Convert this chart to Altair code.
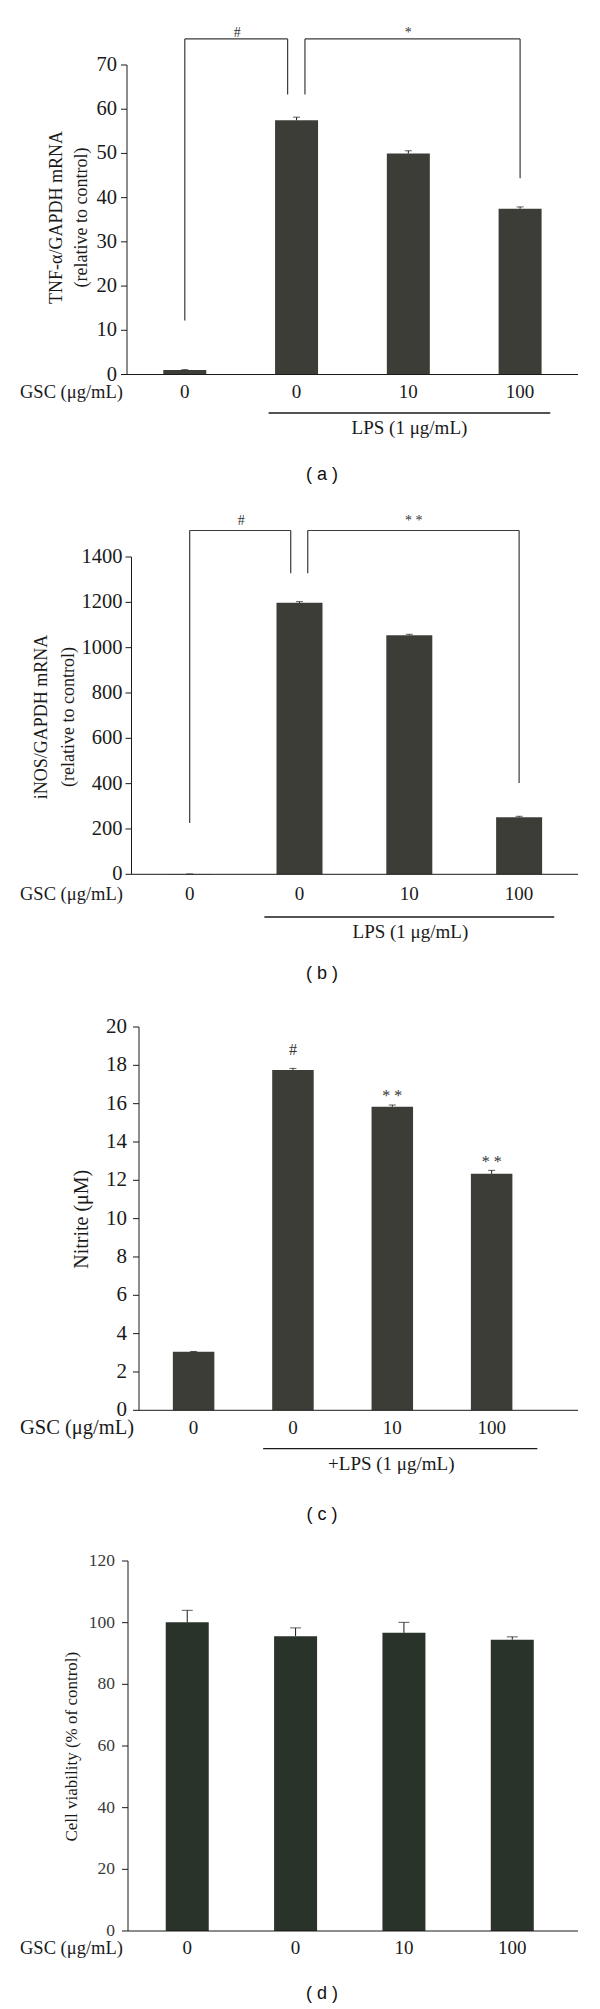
import altair as alt
import pandas as pd

SERIF = "Liberation Serif"
SANS = "Liberation Sans"
INK = "#1a1a1a"

GSC_LABELS = ["0", "0", "10", "100"]
GROUP_POS = [0, 1, 2, 3]

TNF_VALUES = [1.0, 57.5, 50.0, 37.5]
TNF_ERRORS = [0.1, 0.7, 0.6, 0.4]
TNF_TICKS = [0, 10, 20, 30, 40, 50, 60, 70]
TNF_TICK_LABELS = ["0", "10", "20", "30", "40", "50", "60", "70"]

INOS_VALUES = [1.0, 1198.0, 1055.0, 252.0]
INOS_ERRORS = [0.5, 5.0, 4.0, 4.0]
INOS_TICKS = [0, 200, 400, 600, 800, 1000, 1200, 1400]
INOS_TICK_LABELS = ["0", "200", "400", "600", "800", "1000", "1200", "1400"]

NITRITE_VALUES = [3.05, 17.76, 15.84, 12.34]
NITRITE_ERRORS = [0.02, 0.08, 0.09, 0.18]
NITRITE_TICKS = [0, 2, 4, 6, 8, 10, 12, 14, 16, 18, 20]
NITRITE_TICK_LABELS = ["0", "2", "4", "6", "8", "10", "12", "14", "16", "18", "20"]

VIABILITY_VALUES = [100.1, 95.6, 96.7, 94.5]
VIABILITY_ERRORS = [3.9, 2.7, 3.4, 0.9]
VIABILITY_TICKS = [0, 20, 40, 60, 80, 100, 120]
VIABILITY_TICK_LABELS = ["0", "20", "40", "60", "80", "100", "120"]

# significance brackets (x in group units, y in data units)
TNF_BRACKET_X = [[0.0, 0.92], [1.075, 3.0]]
TNF_BRACKET_LEGS = [[12.2, 63.3], [63.3, 44.4]]
TNF_BRACKET_TOP = 75.9
TNF_MARKS = ["#", "*"]
TNF_MARK_X = [0.47, 2.0]
TNF_MARK_Y = [76.4, 76.4]

INOS_BRACKET_X = [[0.0, 0.92], [1.075, 3.0]]
INOS_BRACKET_LEGS = [[226.0, 1328.0], [1328.0, 403.0]]
INOS_BRACKET_TOP = 1517.0
INOS_MARKS = ["#", "* *"]
INOS_MARK_X = [0.47, 2.04]
INOS_MARK_Y = [1540.0, 1540.0]

NITRITE_MARKS = ["#", "* *", "* *"]
NITRITE_MARK_X = [1, 2, 3]
NITRITE_MARK_Y = [18.52, 16.15, 12.68]

LPS_LABELS = ["LPS (1 μg/mL)", "LPS (1 μg/mL)", "+LPS (1 μg/mL)"]
LPS_SPAN = [[0.75, 3.27], [0.68, 3.32], [0.70, 3.46]]
LPS_TEXT_X = [2.01, 2.01, 1.99]

TITLES = {
    "a": ["TNF-α/GAPDH mRNA", "(relative to control)"],
    "b": ["iNOS/GAPDH mRNA", "(relative to control)"],
    "c": ["Nitrite (μM)"],
    "d": ["Cell viability (% of control)"],
}

W = 451


def make_panel(values, errors, ticks, tick_labels, y_title, L, bar_color,
               brackets=None, marks=None, lps=None, letter="a"):
    H = L["height"]
    ax = L["axis_x"]
    xs = alt.Scale(domain=L["xdomain"], nice=False, zero=False)
    ys = alt.Scale(domain=[0, ticks[-1]], nice=False, zero=True)

    def X(f):
        return alt.X(f, type="quantitative", scale=xs, axis=None)

    def Y(f):
        return alt.Y(f, type="quantitative", scale=ys, axis=None)

    df = pd.DataFrame({
        "pos": GROUP_POS,
        "value": values,
        "upper": [v + e for v, e in zip(values, errors)],
        "label": GSC_LABELS,
    })
    tdf = pd.DataFrame({"t": ticks, "tl": tick_labels})
    one = pd.DataFrame({"zero": [0], "top": [ticks[-1]]})

    layers = []
    # invisible extent of the panel (controls vertical stacking)
    layers.append(
        alt.Chart(one).mark_rule(opacity=0).encode(
            x=alt.value(0), y=alt.value(L["extent"][0]), y2=alt.value(L["extent"][1]))
    )
    # bars
    layers.append(
        alt.Chart(df).mark_bar(orient="vertical", size=L["bar_w"], color=bar_color).encode(
            x=X("pos"), y=Y("value"))
    )
    # error bars (upper only)
    layers.append(
        alt.Chart(df).mark_rule(color=INK, strokeWidth=1).encode(
            x=X("pos"), y=Y("value"), y2="upper")
    )
    layers.append(
        alt.Chart(df).mark_tick(orient="horizontal", size=L["cap"], thickness=1, color=INK).encode(
            x=X("pos"), y=Y("upper"))
    )
    # x baseline
    layers.append(
        alt.Chart(one).mark_rule(color=INK, strokeWidth=1).encode(
            x=alt.value(ax), x2=alt.value(W), y=Y("zero"))
    )
    # y axis: domain, ticks, labels
    layers.append(
        alt.Chart(one).mark_rule(color=INK, strokeWidth=1).encode(
            x=alt.value(ax), y=Y("zero"), y2="top")
    )
    layers.append(
        alt.Chart(tdf).mark_rule(color=INK, strokeWidth=1).encode(
            x=alt.value(ax - 6), x2=alt.value(ax), y=Y("t"))
    )
    layers.append(
        alt.Chart(tdf).mark_text(font=SERIF, fontSize=L["tick_fs"], align="right", baseline="middle",
                                 color=L["tick_color"]).encode(
            x=alt.value(ax - L["tick_gap"]), y=Y("t"), text="tl:N")
    )
    # group labels
    layers.append(
        alt.Chart(df).mark_text(font=SERIF, fontSize=19, baseline="middle", color=INK).encode(
            x=X("pos"), y=alt.value(L["label_y"]), text="label:N")
    )
    layers.append(
        alt.Chart(one).mark_text(font=SERIF, fontSize=L["gsc_fs"], baseline="middle", align="left", color=INK).encode(
            x=alt.value(-107), y=alt.value(L["label_y"]), text=alt.value("GSC (μg/mL)"))
    )
    # y title, one mark per line
    for line, tx in zip(y_title, L["title_x"]):
        layers.append(
            alt.Chart(one).mark_text(font=SERIF, fontSize=L["title_fs"], angle=270,
                                     baseline="middle", align="center", color=INK).encode(
                x=alt.value(tx), y=alt.value(L["title_y"]), text=alt.value(line))
        )
    # panel letter
    layers.append(
        alt.Chart(one).mark_text(font=SANS, fontSize=18, baseline="middle", align="center", color="#111").encode(
            x=alt.value(195), y=alt.value(L["letter_y"]), text=alt.value(f"( {letter} )"))
    )
    if lps is not None:
        span, label, lx = lps
        ldf = pd.DataFrame({"x": [span[0]], "x2": [span[1]], "lx": [lx], "t": [label]})
        layers.append(
            alt.Chart(ldf).mark_rule(color=INK, strokeWidth=1.3).encode(
                x=X("x"), x2="x2", y=alt.value(L["lps_line_y"]))
        )
        layers.append(
            alt.Chart(ldf).mark_text(font=SERIF, fontSize=19, baseline="middle", color=INK).encode(
                x=X("lx"), y=alt.value(L["lps_text_y"]), text="t:N")
        )
    if brackets is not None:
        bx, legs, top = brackets
        segs = []
        for (xa, xb), (la, lb) in zip(bx, legs):
            segs.append({"x": xa, "x2": xa, "y": la, "y2": top})
            segs.append({"x": xa, "x2": xb, "y": top, "y2": top})
            segs.append({"x": xb, "x2": xb, "y": lb, "y2": top})
        layers.append(
            alt.Chart(pd.DataFrame(segs)).mark_rule(color="#3a3a3a", strokeWidth=1.2).encode(
                x=X("x"), x2="x2", y=Y("y"), y2="y2")
        )
    if marks is not None:
        mt, mx, my, mfs = marks
        mdf = pd.DataFrame({"x": mx, "y": my, "t": mt})
        layers.append(
            alt.Chart(mdf).mark_text(font=SERIF, fontSize=mfs, baseline="alphabetic", color="#333").encode(
                x=X("x"), y=Y("y"), text="t:N")
        )
    return alt.layer(*layers).properties(width=W, height=H)


LA = dict(height=309.5, xdomain=[-0.4724, 3.4733], bar_w=43, cap=7, axis_x=0,
          tick_fs=20.5, tick_gap=10, tick_color=INK, title_fs=18, title_x=[-70, -45], title_y=152.5,
          gsc_fs=18.5, label_y=327.0, lps_line_y=348, lps_text_y=363, letter_y=410, extent=[-57, 435])
LB = dict(height=317.3, xdomain=[-0.5254, 3.4907], bar_w=46, cap=7, axis_x=4.5,
          tick_fs=20.5, tick_gap=9, tick_color=INK, title_fs=18, title_x=[-85, -58.4], title_y=160,
          gsc_fs=18.5, label_y=336.6, lps_line_y=360, lps_text_y=375, letter_y=416.6, extent=[-56.7, 443.3])
LC = dict(height=383.3, xdomain=[-0.6201, 3.8189], bar_w=41.5, cap=7, axis_x=12,
          tick_fs=21, tick_gap=12, tick_color=INK, title_fs=20, title_x=[-45], title_y=192.3,
          gsc_fs=20.5, label_y=401.3, lps_line_y=421.7, lps_text_y=437.3, letter_y=488, extent=[-26, 509])
LD = dict(height=370, xdomain=[-0.5099, 3.5605], bar_w=43, cap=11, axis_x=1,
          tick_fs=17.5, tick_gap=13, tick_color="#3a3a3a", title_fs=17, title_x=[-54.6], title_y=185.7,
          gsc_fs=18.5, label_y=387.4, letter_y=433.4, extent=[-24.3, 445])

pa = make_panel(TNF_VALUES, TNF_ERRORS, TNF_TICKS, TNF_TICK_LABELS, TITLES["a"], LA,
                "#3d3d37", brackets=(TNF_BRACKET_X, TNF_BRACKET_LEGS, TNF_BRACKET_TOP),
                marks=(TNF_MARKS, TNF_MARK_X, TNF_MARK_Y, 14),
                lps=(LPS_SPAN[0], LPS_LABELS[0], LPS_TEXT_X[0]), letter="a")
pb = make_panel(INOS_VALUES, INOS_ERRORS, INOS_TICKS, INOS_TICK_LABELS, TITLES["b"], LB,
                "#3d3d37", brackets=(INOS_BRACKET_X, INOS_BRACKET_LEGS, INOS_BRACKET_TOP),
                marks=(INOS_MARKS, INOS_MARK_X, INOS_MARK_Y, 14),
                lps=(LPS_SPAN[1], LPS_LABELS[1], LPS_TEXT_X[1]), letter="b")
pc = make_panel(NITRITE_VALUES, NITRITE_ERRORS, NITRITE_TICKS, NITRITE_TICK_LABELS, TITLES["c"], LC,
                "#3d3d37", marks=(NITRITE_MARKS, NITRITE_MARK_X, NITRITE_MARK_Y, 16),
                lps=(LPS_SPAN[2], LPS_LABELS[2], LPS_TEXT_X[2]), letter="c")
pd_ = make_panel(VIABILITY_VALUES, VIABILITY_ERRORS, VIABILITY_TICKS, VIABILITY_TICK_LABELS, TITLES["d"], LD,
                 "#29332a", letter="d")

chart = alt.vconcat(pa, pb, pc, pd_, spacing=0).properties(
    padding={"left": 12, "top": 0, "right": 5, "bottom": 0}
).configure_view(stroke=None)

chart.save("out.html", embed_options={"renderer": "svg", "actions": False})
